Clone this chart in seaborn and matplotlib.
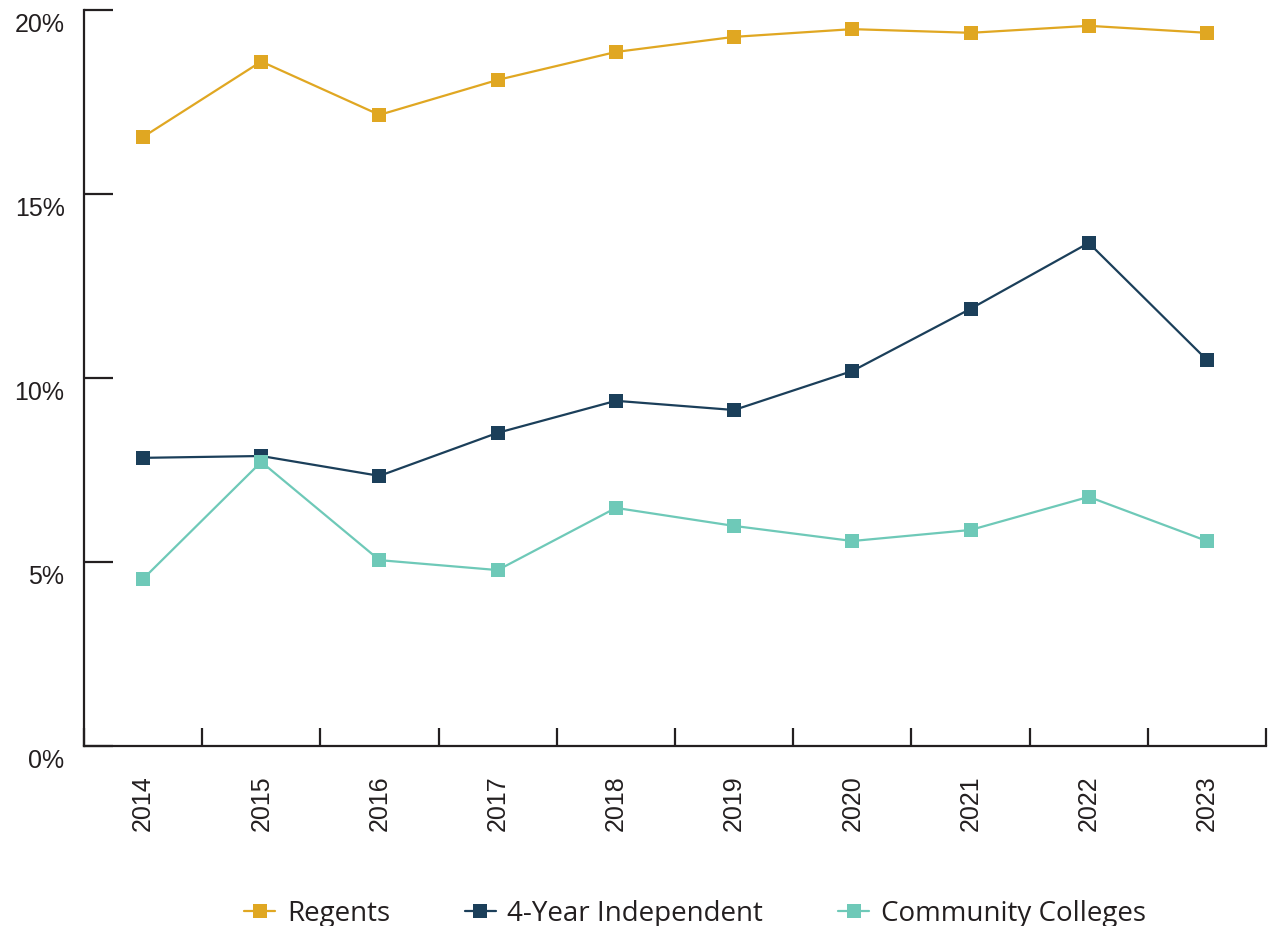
import matplotlib
matplotlib.use("Agg")
import matplotlib.pyplot as plt
import matplotlib.transforms as mtransforms
import seaborn as sns
import pandas as pd

years = [2014, 2015, 2016, 2017, 2018, 2019, 2020, 2021, 2022, 2023]
regents = [16.55, 18.6, 17.15, 18.1, 18.86, 19.27, 19.48, 19.38, 19.57, 19.38]
independent = [7.83, 7.88, 7.34, 8.51, 9.38, 9.13, 10.19, 11.88, 13.67, 10.49]
community = [4.54, 7.72, 5.05, 4.78, 6.47, 5.98, 5.57, 5.87, 6.77, 5.57]

series_names = ["Regents", "4-Year Independent", "Community Colleges"]
colors = ["#E0A722", "#1B3F5A", "#6EC9B8"]

df = pd.DataFrame({
    "pos": list(range(len(years))) * 3,
    "value": regents + independent + community,
    "group": [n for n in series_names for _ in years],
})

sns.set_style("white")
plt.rcParams["font.family"] = ["Liberation Sans", "DejaVu Sans"]

fig = plt.figure(figsize=(12.7, 9.26), dpi=100)
ax = fig.add_axes([0.0661, 0.1944, 0.9308, 0.7948])

sns.lineplot(data=df, x="pos", y="value", hue="group", hue_order=series_names,
             palette=colors, marker="s", markersize=10, markeredgewidth=0,
             linewidth=1.6, dashes=False, ax=ax, legend=True)

ax.set_xlim(-0.5, len(years) - 0.5)
ax.set_ylim(0, 20)
ax.set_xlabel("")
ax.set_ylabel("")

for s in ["top", "right"]:
    ax.spines[s].set_visible(False)
for s in ["left", "bottom"]:
    ax.spines[s].set_color("#231F20")
    ax.spines[s].set_linewidth(1.6)

# y ticks
ax.set_yticks([0, 5, 10, 15, 20])
ax.set_yticklabels(["0%", "5%", "10%", "15%", "20%"])
ax.tick_params(axis="y", left=True, direction="in", length=21, width=1.6,
               color="#231F20", pad=14, labelsize=18, labelcolor="#231F20")
offset = mtransforms.ScaledTranslation(0, -2 / 72, fig.dpi_scale_trans)
for lab in ax.get_yticklabels():
    lab.set_verticalalignment("top")
    lab.set_transform(lab.get_transform() + offset)

# x ticks: labels at centers, tick marks at boundaries
ax.set_xticks(range(len(years)))
ax.set_xticklabels([str(y) for y in years], rotation=90)
ax.tick_params(axis="x", which="major", bottom=True, length=0, pad=21,
               labelsize=18, labelcolor="#231F20")
ax.set_xticks([i - 0.5 for i in range(len(years) + 1)], minor=True)
ax.tick_params(axis="x", which="minor", bottom=True, direction="in", length=13,
               width=1.6, color="#231F20")

handles, labels = ax.get_legend_handles_labels()
leg = ax.legend(handles, labels, loc="center", bbox_to_anchor=(0.517, -0.228),
                ncol=3, frameon=False, handlelength=1.1,
                handletextpad=0.43, columnspacing=2.7,
                prop={"family": ["Open Sans", "DejaVu Sans"], "size": 20})
for t in leg.get_texts():
    t.set_color("#231F20")

fig.savefig("out.png", dpi=100)
